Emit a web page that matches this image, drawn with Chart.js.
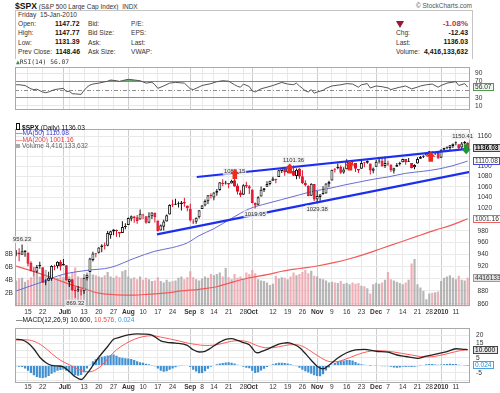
<!DOCTYPE html>
<html><head><meta charset="utf-8">
<title>$SPX</title>
<script src="https://cdn.jsdelivr.net/npm/chart.js@4.4.1/dist/chart.umd.min.js"></script>
<style>
html,body{margin:0;padding:0;background:#fff}
body{width:500px;height:393px;position:relative;overflow:hidden;font-family:"Liberation Sans",Arial,sans-serif;color:#222}
.t{position:absolute;white-space:nowrap;line-height:1}
canvas{position:absolute;left:0}
#hdr{position:absolute;left:15px;top:10px;width:456px;height:48px;border:1px solid #c4c4c4;border-bottom:none;background:#fff}
.lb{font-size:6.6px;color:#333}
.v{font-size:6.9px;font-weight:bold;color:#111}
.mono{font-family:"DejaVu Sans Mono",monospace}
</style></head><body>
<div class="t" style="left:15px;top:1.5px;font-size:6.5px;color:#333"><b style="font-size:8.6px;color:#111">$SPX</b>&nbsp;(S&amp;P 500 Large Cap Index)&nbsp;&nbsp;INDX</div>
<div class="t" style="right:28px;top:2.5px;font-size:6.5px;color:#555">© StockCharts.com</div>
<div id="hdr"></div>

<div class="t lb" style="left:18px;top:12.3px">Friday&nbsp;&nbsp;15-Jan-2010</div>
<div class="t lb" style="left:18px;top:20.7px">Open:</div>
<div class="t lb" style="left:18px;top:30.1px">High:</div>
<div class="t lb" style="left:18px;top:39.5px">Low:</div>
<div class="t lb" style="left:18px;top:48.9px">Prev Close:</div>
<div class="t v" style="left:55px;top:20.5px">1147.72</div>
<div class="t v" style="left:55px;top:29.9px">1147.77</div>
<div class="t v" style="left:55px;top:39.3px">1131.39</div>
<div class="t v" style="left:55.5px;top:48.7px">1148.46</div>
<div class="t lb" style="left:88px;top:20.7px">Bid:</div>
<div class="t lb" style="left:88px;top:30.1px">Bid Size:</div>
<div class="t lb" style="left:88px;top:39.5px">Ask:</div>
<div class="t lb" style="left:88px;top:48.9px">Ask Size:</div>
<div class="t lb" style="left:131px;top:20.7px">P/E:</div>
<div class="t lb" style="left:131px;top:30.1px">EPS:</div>
<div class="t lb" style="left:131px;top:39.5px">Last:</div>
<div class="t lb" style="left:131px;top:48.9px">VWAP:</div>

<div style="position:absolute;left:396px;top:21px;width:0;height:0;border-left:4px solid transparent;border-right:4px solid transparent;border-top:7px solid #9c1636"></div>
<div class="t" style="right:32px;top:19.8px;font-size:8px;font-weight:bold;color:#c8294f">-1.08%</div>
<div class="t lb" style="left:396px;top:30.1px">Chg:</div>
<div class="t lb" style="left:396px;top:39.5px">Last:</div>
<div class="t lb" style="left:396px;top:48.9px">Volume:</div>
<div class="t v" style="right:32px;top:29.9px">-12.43</div>
<div class="t v" style="right:32px;top:39.3px">1136.03</div>
<div class="t v" style="right:32px;top:48.7px">4,416,133,632</div>

<canvas id="cR" width="500" height="61" style="top:58px"></canvas>
<canvas id="cP" width="500" height="200" style="top:118px"></canvas>
<canvas id="cM" width="500" height="75" style="top:318px"></canvas>

<div class="t mono" style="left:16px;top:58.6px;font-size:6.3px;color:#333"><span style="color:#3f8a3f">&#9650;</span>RSI(14) 56.07</div>
<div class="t" style="left:16px;top:123.3px;font-size:6.6px;color:#111"><span style="display:inline-block;width:2px;height:5px;border:0.5px solid #111;margin-right:2px;vertical-align:-0.5px"></span><b>$SPX</b> (Daily) 1136.03</div>
<div class="t" style="left:16px;top:130.3px;font-size:6.6px;color:#3a3acc">&#8212;MA(50) 1110.08</div>
<div class="t" style="left:16px;top:136.8px;font-size:6.6px;color:#ee3a3a">&#8212;MA(200) 1001.16</div>
<div class="t" style="left:16px;top:143.3px;font-size:6.6px;color:#666"><span style="display:inline-block;width:4px;height:4px;background:#aaa;margin-right:2px"></span>Volume 4,416,133,632</div>
<div class="t" style="left:16px;top:316.8px;font-size:6.6px;color:#111">&#8212;MACD(12,26,9) 10.600, <span style="color:#f04848">10.576,</span> <span style="color:#3a98d8">0.024</span></div>

<script>
// ---------- DATA ----------
// x-axis tick positions (trading-day index, 0 = 9-Jun-2009) and their labels
const tickIdx  = [4,9,16,18,23,28,33,38,43,48,53,59,63,67,72,77,80,87,92,97,102,107,112,117,122,126,131,136,140,144,149];
const tickText = ['15','22','Jul','6','13','20','27','Aug','10','17','24','Sep','8','14','21','28','Oct','12','19','26','Nov','9','16','23','Dec','7','14','21','28','2010','11'];
const monthIdx = [16,38,59,80,102,122,144];

const ohlcOpen = [940.35,942.73,939.04,943.44,942.45,925.60,911.89,910.86,919.96,918.13,893.46,896.31,899.45,918.84,919.86,927.15,
920.82,921.24,894.27,898.60,881.90,881.28,880.03,879.57,900.77,910.15,930.17,940.56,942.07,951.97,953.40,954.07,972.16,978.63,981.48,977.66,976.01,986.80,
990.22,1001.41,1005.41,1004.06,999.83,1008.89,1005.77,994.00,1005.86,1012.23,998.18,980.62,986.88,996.41,1009.06,1026.59,1026.63,1027.35,1027.81,1031.62,1025.21,
1019.52,996.07,996.12,1003.84,1018.67,1025.36,1032.99,1043.92,1040.15,1049.03,1053.99,1067.87,1066.60,1067.14,1066.35,1072.69,1062.56,1049.48,1045.38,1063.69,1061.02,
1054.91,1029.71,1026.87,1042.02,1053.65,1060.03,1065.28,1071.63,1074.96,1078.68,1090.36,1094.67,1088.22,1098.64,1090.36,1080.96,1095.62,1080.36,1067.54,1061.51,1043.19,1065.41,
1036.18,1040.92,1047.30,1047.30,1064.95,1072.31,1091.86,1096.04,1098.31,1087.59,1094.13,1109.22,1109.44,1106.44,1094.66,1094.86,1105.83,1106.49,1105.47,1091.07,
1098.89,1109.03,1110.59,1100.43,1105.52,1103.04,1091.07,1098.69,1103.96,1107.84,1114.11,1108.61,1106.36,1097.86,1105.31,1114.51,1118.84,1121.08,1127.53,1128.55,1125.53,1126.60,
1116.56,1132.66,1135.71,1136.27,1140.52,1145.96,1143.81,1137.31,1145.68,1147.72];
const ohlcHigh = [946.92,949.77,956.23,946.30,942.45,928.00,918.44,921.93,927.09,918.13,898.69,910.85,921.42,922.00,927.99,930.01,
931.92,921.24,898.72,898.60,886.80,887.86,883.57,901.05,905.84,933.95,943.96,941.89,951.62,956.53,959.83,979.42,979.79,982.49,982.35,977.76,996.68,993.18,
1003.61,1007.12,1006.64,1008.00,1018.00,1010.12,1005.77,1012.78,1013.14,1012.60,998.18,991.20,999.61,1008.92,1027.59,1035.82,1037.75,1032.47,1033.33,1039.47,1025.21,
1028.45,1000.34,1003.43,1016.48,1026.07,1036.34,1044.14,1048.18,1049.74,1056.04,1068.76,1074.77,1071.52,1067.28,1073.81,1080.15,1066.29,1053.47,1065.13,1069.62,1063.40,
1054.91,1030.60,1042.58,1060.55,1058.02,1070.67,1071.51,1079.46,1075.30,1093.17,1096.56,1094.67,1100.17,1098.64,1101.36,1095.21,1095.83,1091.75,1072.48,1063.26,1066.83,1065.41,
1052.18,1046.36,1061.00,1066.65,1071.48,1093.19,1096.42,1105.37,1101.97,1097.79,1113.69,1110.52,1111.10,1106.44,1094.66,1112.38,1107.56,1111.18,1105.47,1097.24,
1112.28,1117.58,1117.28,1119.13,1110.72,1103.04,1097.04,1106.25,1108.50,1114.76,1114.11,1116.21,1106.36,1103.74,1117.68,1120.27,1121.58,1126.48,1130.38,1130.38,1126.42,1127.64,
1133.87,1136.63,1139.19,1142.46,1145.39,1149.74,1143.81,1148.40,1150.41,1147.77];
const ohlcLow = [936.15,927.97,939.04,935.66,919.65,911.60,903.78,907.94,915.80,893.04,888.86,896.31,896.27,913.03,916.18,912.86,
920.82,896.42,886.36,879.93,869.32,878.45,872.81,875.32,896.50,910.15,927.45,934.65,940.99,943.22,947.75,953.27,965.95,972.29,969.35,968.65,976.01,982.85,
990.22,996.68,994.31,992.49,999.83,1000.99,992.40,993.36,1000.82,994.60,978.51,980.62,980.62,996.39,1009.06,1022.48,1026.21,1021.57,1016.20,1023.13,1014.62,
996.28,991.97,992.25,1001.65,1018.67,1023.97,1028.04,1038.40,1035.00,1043.42,1052.87,1061.20,1064.27,1057.46,1066.35,1060.39,1045.85,1041.17,1045.38,1057.83,1046.47,
1029.45,1019.95,1025.92,1042.02,1050.10,1060.03,1063.00,1071.63,1066.71,1078.68,1086.41,1081.53,1086.48,1086.16,1080.77,1074.31,1075.49,1065.23,1060.62,1042.19,1043.19,1033.38,
1029.38,1033.94,1045.15,1047.30,1059.32,1072.31,1087.40,1093.81,1084.90,1085.33,1094.13,1102.19,1102.70,1088.40,1086.81,1094.86,1097.63,1104.75,1083.74,1086.25,
1098.89,1105.15,1098.74,1096.52,1100.83,1088.61,1085.89,1098.69,1101.34,1107.84,1102.78,1107.96,1095.88,1093.88,1105.31,1114.51,1116.00,1121.08,1123.51,1126.08,1121.94,1114.81,
1116.56,1129.66,1133.95,1131.32,1136.22,1142.02,1131.77,1133.18,1143.80,1131.39];
const ohlcClose = [942.43,939.15,944.89,946.21,923.72,911.97,910.71,918.37,921.23,893.04,895.10,900.94,920.26,918.90,927.23,919.32,
923.33,896.42,898.72,881.03,879.56,882.68,879.13,901.05,905.84,932.68,940.74,940.38,951.13,954.58,954.07,976.29,979.26,982.18,979.62,975.15,986.75,987.48,
1002.63,1005.65,1002.72,997.08,1010.48,1007.10,994.35,1005.81,1012.73,1004.09,979.73,989.67,996.46,1007.37,1026.13,1025.57,1028.00,1028.12,1030.98,1028.93,1020.62,
998.04,994.75,1003.24,1016.40,1025.39,1033.37,1044.14,1042.73,1049.34,1052.63,1068.76,1065.49,1068.30,1064.66,1071.66,1060.87,1050.78,1044.38,1062.98,1060.61,1057.08,
1029.85,1025.21,1040.46,1054.72,1057.58,1065.48,1071.49,1076.19,1073.19,1092.02,1096.56,1087.68,1097.91,1091.06,1081.40,1092.91,1079.60,1066.95,1063.41,1042.63,1066.11,1036.19,
1042.88,1045.41,1046.50,1066.63,1069.30,1093.08,1093.01,1098.51,1087.24,1093.48,1109.30,1110.32,1109.80,1094.90,1091.38,1106.24,1105.65,1110.63,1091.49,1095.63,
1108.86,1109.24,1099.92,1105.98,1103.25,1091.94,1095.95,1102.35,1106.41,1114.11,1107.93,1109.18,1096.08,1102.47,1114.05,1118.02,1120.59,1126.48,1127.78,1126.20,1126.42,1115.10,
1132.99,1136.52,1137.14,1141.69,1144.98,1146.98,1136.22,1145.68,1148.46,1136.03];
const prevCloseBefore = 939.14;
// volume, billions of shares
const volumeB = [4.0,4.3,4.4,3.8,4.1, 4.5,4.7,5.0,4.6,4.9, 5.6,4.6,4.9,4.3,4.4, 4.8,4.5,4.2,4.6,5.3,
6.0,4.6,4.4,5.0,5.2, 5.3,4.9,4.8,4.6,4.5, 4.8,5.3,4.6,4.4,4.7, 4.5,5.4,5.6,4.6,4.3,
4.5,4.2,4.6,4.1,4.4, 4.2,3.9,4.0,4.5,3.9, 3.7,4.1,3.8,3.9,4.0, 4.4,4.6,4.2,4.5,5.4,
4.5,4.2,4.0,4.3,4.6, 4.4,5.0,4.8,5.0,5.2, 4.6,5.9,4.5,4.2,5.0, 4.4,4.6,4.3,5.2,5.0,
5.6,5.1,4.2,4.0,3.9, 3.7,3.3,3.5,4.7,4.3, 4.5,4.4,4.2,4.6,5.2, 4.8,5.0,5.3,5.6,5.1,
5.5,4.7,4.6,4.3,4.2, 4.0,3.7,3.8,3.7,3.6, 3.9,3.5,3.6,3.4,3.7, 3.5,3.6,3.2,3.1,2.8,
2.0,3.4,3.6,3.5,3.7, 4.1,5.3,4.2,4.0,3.8, 3.6,3.4,3.7,4.1,6.6, 7.3,3.4,2.9,2.4,1.1,
2.0,2.1,2.2,2.3,3.9, 4.4,4.6,4.8,4.4,4.2, 4.7,4.1,4.0,4.416];
// moving averages: [day index, value]
const ma50Pts = [[0,880],[8,893],[16,906.6],[24,913],[32,917.7],[40,932.8],[47,944.8],[53,951],[58,959],[62,971.4],[67,983.6],[73,1002],[79,1019.2],[85,1029],[90,1036.2],[96,1045],[101,1052.2],[106,1057],[111,1063.3],[116,1069],[121,1074.5],[126,1079],[132,1086],[138,1090],[143,1094.3],[148,1101],[153,1110.08]];
const ma200Pts = [[0,920],[6,911],[11,903],[17,892.5],[23,883.6],[28,876.5],[34,873.9],[40,873.5],[45,875],[51,877],[56,880],[62,882.6],[68,886.6],[73,893.5],[79,901],[85,906],[90,911.5],[96,916],[102,920.1],[108,926],[113,932.1],[118,939.5],[124,949.8],[130,960],[136,970.6],[142,981],[147,989],[153,1001.16]];
// drawn trend lines: [day index, price]
const trendUpper = [[61.2,1078.9],[153.8,1135.2]];
const trendLower = [[47.7,973.8],[153.8,1088.9]];
// annotation arrows: [day index, tip price, direction]
const arrows = [[74.1,1094.3,'down'],[92.7,1105.3,'down'],[113.1,1111.4,'down'],[140.5,1128.9,'down'],[152.5,1123.9,'up']];
// hi/lo price labels: [day index, price, side]
const hiLo = [[2,956.23,'h'],[20,869.32,'l'],[74,1080.15,'h'],[81,1019.95,'l'],[94,1101.36,'h'],[102,1029.38,'l'],[152,1150.41,'h']];
// RSI(14)
const rsiPts = [[0,61.8],[1,61.8],[3,60],[5,51.8],[6,50],[7,51],[9,44],[10,42.4],[11,44.2],[13,50],[16,53],[17,45],[18,46],[19,40],[20,39.5],[22,38.3],[23,48],[24,55.8],[25,61],[26,63.5],[28,65.8],[31,70.5],[32,73.4],[34,71.6],[35,70],[36,72],[38,75.1],[40,73.4],[42,71.6],[44,65.8],[46,68],[47,62],[48,53],[50,58.8],[52,65.8],[54,67.5],[57,65.8],[59,52],[60,50],[61,53],[63,60],[66,64.6],[68,69.3],[70,71.6],[72,70.5],[74,61.8],[75,58],[76,55.8],[77,63.5],[79,57.5],[80,47],[81,44.2],[83,52],[85,55.8],[87,60],[90,67.5],[92,63.5],[94,62],[95,65.8],[96,58.8],[97,53],[98,47],[99,44.2],[100,50],[101,41.2],[102,44],[104,48.2],[105,53],[107,58.8],[110,61.8],[112,64.6],[114,63.5],[116,55.8],[117,61.8],[119,64.6],[120,54],[122,58.8],[124,57],[126,54],[127,50],[128,52],[130,55.8],[132,58.8],[134,51.8],[136,56],[137,58.8],[139,61.8],[141,63.5],[143,55.8],[144,60],[146,65.8],[149,69.3],[150,60],[152,64.6],[153,56.07]];
// MACD(12,26,9)
const macdPts = [[0,17.5],[2,17.2],[4,15],[6,11],[8,5.5],[10,2],[12,0],[14,-0.3],[16,-1],[18,-4],[20,-7.5],[22,-9.4],[24,-5.5],[26,0],[28,5.5],[31,12.7],[33,17.5],[35,18.8],[38,20.4],[41,21.2],[43,21],[46,20.3],[49,16.5],[51,15.5],[54,15],[58,13.5],[60,10.5],[62,9],[64,9.5],[66,11.7],[69,15.6],[71,17.5],[73,17.9],[75,16.8],[77,15.3],[79,13.8],[80,11.5],[81,9],[82,8.5],[83,9.2],[85,10.8],[87,12.6],[89,14.3],[91,15],[92,15.2],[94,14.2],[96,12],[98,8],[100,3.5],[102,-0.5],[104,-2.3],[106,0.2],[109,5],[112,8.5],[115,10.5],[118,10.8],[122,9.5],[126,8.9],[129,7],[132,6],[136,4.8],[139,6.3],[143,7.9],[146,9.3],[149,11.2],[151,11],[153,10.6]];
const signalPts = [[0,17],[3,17.2],[6,16.2],[9,13],[12,8],[15,3.5],[18,0.5],[21,-2.5],[23,-4],[25,-4.2],[27,-2.8],[29,0],[31,4.5],[34,10.5],[37,14.5],[40,17.5],[43,19.3],[46,19.9],[49,19],[52,17.8],[55,16.5],[58,15],[61,14],[64,13.4],[67,13.6],[70,14.8],[73,16.2],[76,16.6],[79,15.5],[81,13.8],[83,12.4],[85,11.8],[87,11.9],[89,12.5],[91,13.3],[93,13.9],[95,13.9],[97,12.8],[99,10.7],[101,8],[103,5.5],[105,3.3],[107,2.4],[109,2.6],[111,3.8],[113,5.2],[116,7.5],[119,9.2],[122,9.9],[125,9.7],[128,9],[131,8],[134,7],[137,6],[140,5.7],[143,6.5],[146,7.8],[149,9.3],[151,10.1],[153,10.576]];
const histVals = [-0.5,-0.8,-1,-2,-3.5, -5,-6.5,-7.8,-8.3,-8.4, -8,-7,-5.5,-4.5,-3.5, -3,-2.7,-3.5,-4.5,-5.5,
-6.5,-6.8,-6.3,-4.5,-2, 0.5,2.8,4.2,5.2,5.8, 6.2,6.6,7,7.3,6.5, 5.5,5.2,4.9,4.7,4.4,
3.6,2.8,2.1,1.8,1.2, 0.8,0.2,-0.5,-2,-3.5, -4.2,-3.8,-2.8,-2,-1.2, -0.6,-0.2,0,0,-1,
-2.8,-4,-5.2,-5,-3.8, -2.2,-0.8,0.3,0.8,1.3, 1.7,2,2.2,1.9,1.3, 0.5,-0.3,-0.8,-1.5,-1.8,
-3.5,-5,-4.6,-3.4,-2.2, -1.1,0,0.8,1.4,1.8, 1.9,1.7,1.3,0.8,0.2, -0.6,-1.6,-2.8,-3.8,-4.7,
-5.6,-6.5,-7,-7.2,-5.8, -3.3,-1.3,0.5,1.6,2.6, 3.1,3.4,3.7,3.7,3.3, 2.4,1.3,0.8,0.5,0.3,
-0.1,-0.3,-0.2,-0.3,-0.6, -0.5,-0.6,-0.9,-1.3,-1.5, -1.3,-0.9,-1,-0.8,-1, -0.9,-0.6,-0.2,0.3,0.8,
1,0.9,0.6,0.4,0.6, 0.8,1,1.1,1,0.9, 0.5,0.3,0.2,0.024];

// axis tick values / visible labels
const priceGrid = [860,880,900,920,940,960,980,1000,1020,1040,1060,1080,1100,1120,1140,1160];
const priceTickLabels = [860,880,920,940,960,980,1020,1040,1060,1080,1100,1160];
const volTicks = [2,4,6,8];
const volTickText = ['2B','4B','6B','8B'];
const rsiGrid = [10,30,50,70,90];
const rsiTickLabels = [10,30,70,90];
const macdGrid = [-10,-5,0,5,10,15,20];
const macdTickLabels = [-5,5,15,20];

// ---------- CHARTS ----------
const FONT = "'Liberation Sans', Arial, sans-serif";
const RED = '#e0102a', BLK = '#111111';
const N = ohlcClose.length;
const IDX = Array.from({length:N}, (_, i) => i);
const isDown = i => ohlcClose[i] < (i > 0 ? ohlcClose[i-1] : prevCloseBefore);
const candleCol = IDX.map(i => isDown(i) ? RED : BLK);
const bodyFill = IDX.map(i => ohlcClose[i] >= ohlcOpen[i] ? '#ffffff' : candleCol[i]);
const volCol = IDX.map(i => isDown(i) ? 'rgba(236,150,160,0.75)' : 'rgba(165,165,165,0.8)');
const pts = arr => arr.map(([x, y]) => ({x, y}));

function xAxis(labelH) {
  return {
    type: 'linear', min: -0.4, max: 153.8, offset: false,
    afterBuildTicks: s => { s.ticks = tickIdx.map(v => ({value: v})); },
    afterFit: s => { s.height = labelH; },
    grid: { offset: false, drawTicks: false, lineWidth: 1,
      color: c => (c.tick && monthIdx.includes(c.tick.value)) ? '#cdcdcd' : '#e9e9e9' },
    border: { display: false },
    ticks: { display: labelH > 0, autoSkip: false, maxRotation: 0, minRotation: 0, padding: 1.2, color: '#333',
      font: c => ({ family: FONT, size: 6.6, weight: (c.tick && monthIdx.includes(c.tick.value)) ? 'bold' : 'normal' }),
      callback: v => { const k = tickIdx.indexOf(v); return k >= 0 ? tickText[k] : ''; } }
  };
}
function rightAxis(extra) {
  return Object.assign({
    position: 'right', afterFit: s => { s.width = 30; },
    border: { display: false },
    grid: { drawTicks: false, color: '#e9e9e9' },
  }, extra);
}
const tickFont = { family: FONT, size: 6.6 };

const framePlugin = { id: 'frame', afterDraw(chart) {
  const {ctx, chartArea: a} = chart; ctx.save();
  ctx.strokeStyle = '#a9a9a9'; ctx.lineWidth = 1;
  ctx.strokeRect(Math.round(a.left) + 0.5, Math.round(a.top) + 0.5, Math.round(a.right - a.left) - 1, Math.round(a.bottom - a.top) - 1);
  ctx.restore(); } };

function drawTag(chart, axisId, value, text, o) {
  const ctx = chart.ctx, a = chart.chartArea, y = chart.scales[axisId].getPixelForValue(value);
  ctx.save();
  ctx.font = `${o.bold ? 'bold ' : ''}6.6px ${FONT}`;
  const w = Math.ceil(ctx.measureText(text).width) + 4, h = 8, x = Math.round(a.right) + 3, top = Math.round(y - h / 2);
  ctx.fillStyle = o.bg; ctx.fillRect(x, top, w, h);
  ctx.strokeStyle = o.border; ctx.lineWidth = 1; ctx.strokeRect(x + 0.5, top + 0.5, w - 1, h - 1);
  ctx.fillStyle = o.color; ctx.textBaseline = 'middle'; ctx.textAlign = 'left';
  ctx.fillText(text, x + 2, top + h / 2 + 0.5);
  ctx.restore();
}

// ---- RSI panel ----
new Chart(document.getElementById('cR'), {
  type: 'line',
  data: { datasets: [{
    data: pts(rsiPts), borderColor: '#555', borderWidth: 1, pointRadius: 0, tension: 0,
    fill: { target: { value: 70 }, above: 'rgba(70,150,70,0.8)', below: 'rgba(0,0,0,0)' }
  }]},
  options: {
    responsive: false, animation: false, events: [],
    layout: { padding: { left: 15, right: 0, top: 0.5, bottom: 0.5 } },
    plugins: { legend: { display: false }, tooltip: { enabled: false } },
    scales: {
      x: xAxis(0),
      y: rightAxis({ type: 'linear', min: 0, max: 105.3,
        afterBuildTicks: s => { s.ticks = rsiGrid.map(v => ({value: v})); },
        grid: { drawTicks: false, color: c => (c.tick && (c.tick.value === 30 || c.tick.value === 70)) ? '#8e8e8e' : (c.tick && c.tick.value === 50 ? 'rgba(0,0,0,0)' : '#e6e6e6') },
        ticks: { padding: 5, color: '#333', font: tickFont, autoSkip: false, callback: v => rsiTickLabels.includes(v) ? String(v) : '' } })
    }
  },
  plugins: [framePlugin, { id: 'rsiExtras',
    beforeDatasetsDraw(chart) {
      const {ctx, chartArea: a} = chart, y = Math.round(chart.scales.y.getPixelForValue(50)) + 0.5;
      ctx.save(); ctx.strokeStyle = '#8e8e8e'; ctx.lineWidth = 1; ctx.setLineDash([4, 2, 1, 2]);
      ctx.beginPath(); ctx.moveTo(a.left, y); ctx.lineTo(a.right, y); ctx.stroke(); ctx.restore();
    },
    afterDraw(chart) { drawTag(chart, 'y', 56.07, '56.07', { bg: '#eef6ee', border: '#4f9a4f', color: '#333' }); }
  }]
});

// ---- Price panel ----
new Chart(document.getElementById('cP'), {
  type: 'line',
  data: { datasets: [
    { type: 'line', order: 0, data: pts(trendUpper), borderColor: '#1c2ff0', borderWidth: 2.2, pointRadius: 0, yAxisID: 'y' },
    { type: 'line', order: 0, data: pts(trendLower), borderColor: '#1c2ff0', borderWidth: 2.2, pointRadius: 0, yAxisID: 'y' },
    { type: 'bar', order: 1, yAxisID: 'y', grouped: false, barThickness: 3, minBarLength: 1,
      data: IDX.map(i => ({x: i, y: [ohlcOpen[i], ohlcClose[i]]})),
      backgroundColor: bodyFill, borderColor: candleCol, borderWidth: 1, borderSkipped: false, inflateAmount: 0 },
    { type: 'bar', order: 2, yAxisID: 'y', grouped: false, barThickness: 1,
      data: IDX.map(i => ({x: i, y: [ohlcLow[i], ohlcHigh[i]]})),
      backgroundColor: candleCol, borderWidth: 0, inflateAmount: 0 },
    { type: 'line', order: 3, data: pts(ma50Pts), borderColor: '#6a6ad8', borderWidth: 1, pointRadius: 0, cubicInterpolationMode: 'monotone', yAxisID: 'y' },
    { type: 'line', order: 4, data: pts(ma200Pts), borderColor: '#f25a5a', borderWidth: 1.2, pointRadius: 0, cubicInterpolationMode: 'monotone', yAxisID: 'y' },
    { type: 'bar', order: 10, yAxisID: 'yv', grouped: false, barThickness: 2.2,
      data: IDX.map(i => ({x: i, y: volumeB[i]})), backgroundColor: volCol, borderWidth: 0, inflateAmount: 0 }
  ]},
  options: {
    responsive: false, animation: false, events: [],
    layout: { padding: { left: 0, right: 0, top: 0.5, bottom: 0 } },
    plugins: { legend: { display: false }, tooltip: { enabled: false } },
    scales: {
      x: xAxis(9.5),
      y: rightAxis({ type: 'logarithmic', min: 855.8, max: 1174.6,
        afterBuildTicks: s => { s.ticks = priceGrid.map(v => ({value: v})); },
        ticks: { padding: 7.5, color: '#333', font: tickFont, autoSkip: false, callback: v => priceTickLabels.includes(v) ? String(v) : '' } }),
      yv: { type: 'linear', position: 'left', min: 0, max: 27.14,
        afterFit: s => { s.width = 15; },
        afterBuildTicks: s => { s.ticks = volTicks.map(v => ({value: v})); },
        grid: { display: false }, border: { display: false },
        ticks: { display: false } }
    }
  },
  plugins: [framePlugin, { id: 'priceExtras', afterDraw(chart) {
    const {ctx} = chart, xs = chart.scales.x, ys = chart.scales.y, yv = chart.scales.yv;
    ctx.save();
    // volume axis labels
    ctx.font = `6.6px ${FONT}`; ctx.fillStyle = '#333'; ctx.textAlign = 'right'; ctx.textBaseline = 'middle';
    volTicks.forEach((v, k) => ctx.fillText(volTickText[k], chart.chartArea.left - 2, yv.getPixelForValue(v)));
    // hi/lo labels
    ctx.font = `5.9px ${FONT}`; ctx.textAlign = 'center'; ctx.textBaseline = 'middle';
    hiLo.forEach(([i, p, side]) => {
      let x = xs.getPixelForValue(i);
      const y = ys.getPixelForValue(p) + (side === 'h' ? -5 : 5.5);
      const t = p.toFixed(2), w = ctx.measureText(t).width + 2;
      x = Math.min(x, chart.chartArea.right + 4 - w / 2);
      ctx.fillStyle = 'rgba(240,240,240,0.85)'; ctx.fillRect(x - w / 2, y - 3.5, w, 7);
      ctx.fillStyle = '#333'; ctx.fillText(t, x, y + 0.3);
    });
    // arrows
    arrows.forEach(([i, p, dir]) => {
      const x = xs.getPixelForValue(i), y = ys.getPixelForValue(p);
      const hw = 4.6, hh = 5, sw = 2.3, sh = 5, s = dir === 'down' ? -1 : 1;
      ctx.beginPath();
      ctx.moveTo(x, y); ctx.lineTo(x - hw, y - s * hh); ctx.lineTo(x - sw, y - s * hh);
      ctx.lineTo(x - sw, y - s * (hh + sh)); ctx.lineTo(x + sw, y - s * (hh + sh));
      ctx.lineTo(x + sw, y - s * hh); ctx.lineTo(x + hw, y - s * hh); ctx.closePath();
      ctx.fillStyle = dir === 'down' ? '#ee2a1c' : '#1c9a2a'; ctx.fill();
    });
    ctx.restore();
    drawTag(chart, 'y', 1136.03, '1136.03', { bg: '#d9d9d9', border: '#444', color: '#000', bold: true });
    drawTag(chart, 'y', 1110.08, '1110.08', { bg: '#ffffff', border: '#4646d8', color: '#333' });
    drawTag(chart, 'y', 1001.16, '1001.16', { bg: '#ffffff', border: '#f06060', color: '#333' });
    drawTag(chart, 'yv', 4.416133632, '4416133', { bg: '#e2e2e2', border: '#999', color: '#333' });
  } }]
});

// ---- MACD panel ----
new Chart(document.getElementById('cM'), {
  type: 'line',
  data: { datasets: [
    { type: 'line', order: 0, data: pts(macdPts), borderColor: '#222', borderWidth: 1.3, pointRadius: 0, cubicInterpolationMode: 'monotone' },
    { type: 'line', order: 1, data: pts(signalPts), borderColor: '#ff5a5a', borderWidth: 1, pointRadius: 0, cubicInterpolationMode: 'monotone' },
    { type: 'bar', order: 5, grouped: false, barThickness: 2.2, data: IDX.map(i => ({x: i, y: histVals[i]})),
      backgroundColor: '#3f90d2', borderWidth: 0, inflateAmount: 0 }
  ]},
  options: {
    responsive: false, animation: false, events: [],
    layout: { padding: { left: 15, right: 0, top: 0.5, bottom: 0 } },
    plugins: { legend: { display: false }, tooltip: { enabled: false } },
    scales: {
      x: xAxis(10.5),
      y: rightAxis({ type: 'linear', min: -11.4, max: 25.1,
        afterBuildTicks: s => { s.ticks = macdGrid.map(v => ({value: v})); },
        ticks: { padding: 6, color: '#333', font: tickFont, autoSkip: false, callback: v => macdTickLabels.includes(v) ? String(v) : '' } })
    }
  },
  plugins: [framePlugin, { id: 'macdTags', afterDraw(chart) {
    drawTag(chart, 'y', 10.6, '10.600', { bg: '#e6e6e6', border: '#444', color: '#000' });
    drawTag(chart, 'y', 0.024, '0.024', { bg: '#ffffff', border: '#4aa0e0', color: '#2f8fd0' });
  } }]
});
</script>
</body></html>
